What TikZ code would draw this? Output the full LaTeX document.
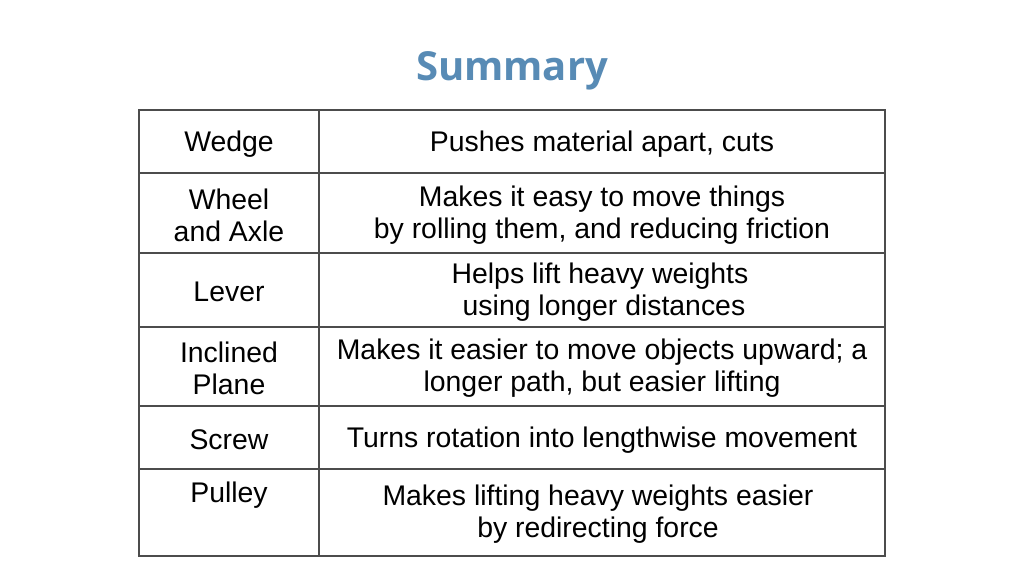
\documentclass[tikz,border=0pt]{standalone}
\usepackage{fontspec}
\setmainfont{Liberation Sans}
\newfontfamily\titlefont{Open Sans}
\definecolor{titleblue}{RGB}{88,139,181}
\begin{document}
\begin{tikzpicture}[x=0.75pt,y=-0.75pt,
  cell/.style={align=center,font=\fontsize{21.3}{24}\selectfont,inner sep=0pt},
  grid/.style={draw=black!70,line width=0.8pt}]
\useasboundingbox (0,0) rectangle (1024,576);
\node[font=\titlefont\bfseries\fontsize{30}{36}\selectfont,text=titleblue] (title) at (512,71) {Summary};

% table frame
\draw[grid] (139,110) rectangle (885,556);
\draw[grid] (319,110) -- (319,556);
\foreach \y in {173,253,327,406,469}
  \draw[grid] (139,\y) -- (885,\y);

% left column
\node[cell] (wedge) at (229,144) {Wedge};
\node[cell] (wheel) at (229,215) {Wheel\\and Axle};
\node[cell] (lever) at (229,292) {Lever};
\node[cell] (plane) at (229,368) {Inclined\\Plane};
\node[cell] (screw) at (229,440) {Screw};
\node[cell] (pulley) at (229,495) {Pulley};

% right column
\node[cell] (wedgetxt) at (602,144) {Pushes material apart, cuts};
\node[cell] (wheeltxt) at (602,215) {Makes it easy to move things\\by rolling them, and reducing friction};
\node[cell] (levertxt) at (600,292) {Helps lift heavy weights\\\hspace*{6pt}using longer distances};
\node[cell] (planetxt) at (602,368) {Makes it easier to move objects upward; a\\longer path, but easier lifting};
\node[cell] (screwtxt) at (602,440) {Turns rotation into lengthwise movement};
\node[cell] (pulleytxt) at (598,514) {Makes lifting heavy weights easier\\by redirecting force};
\end{tikzpicture}
\end{document}
